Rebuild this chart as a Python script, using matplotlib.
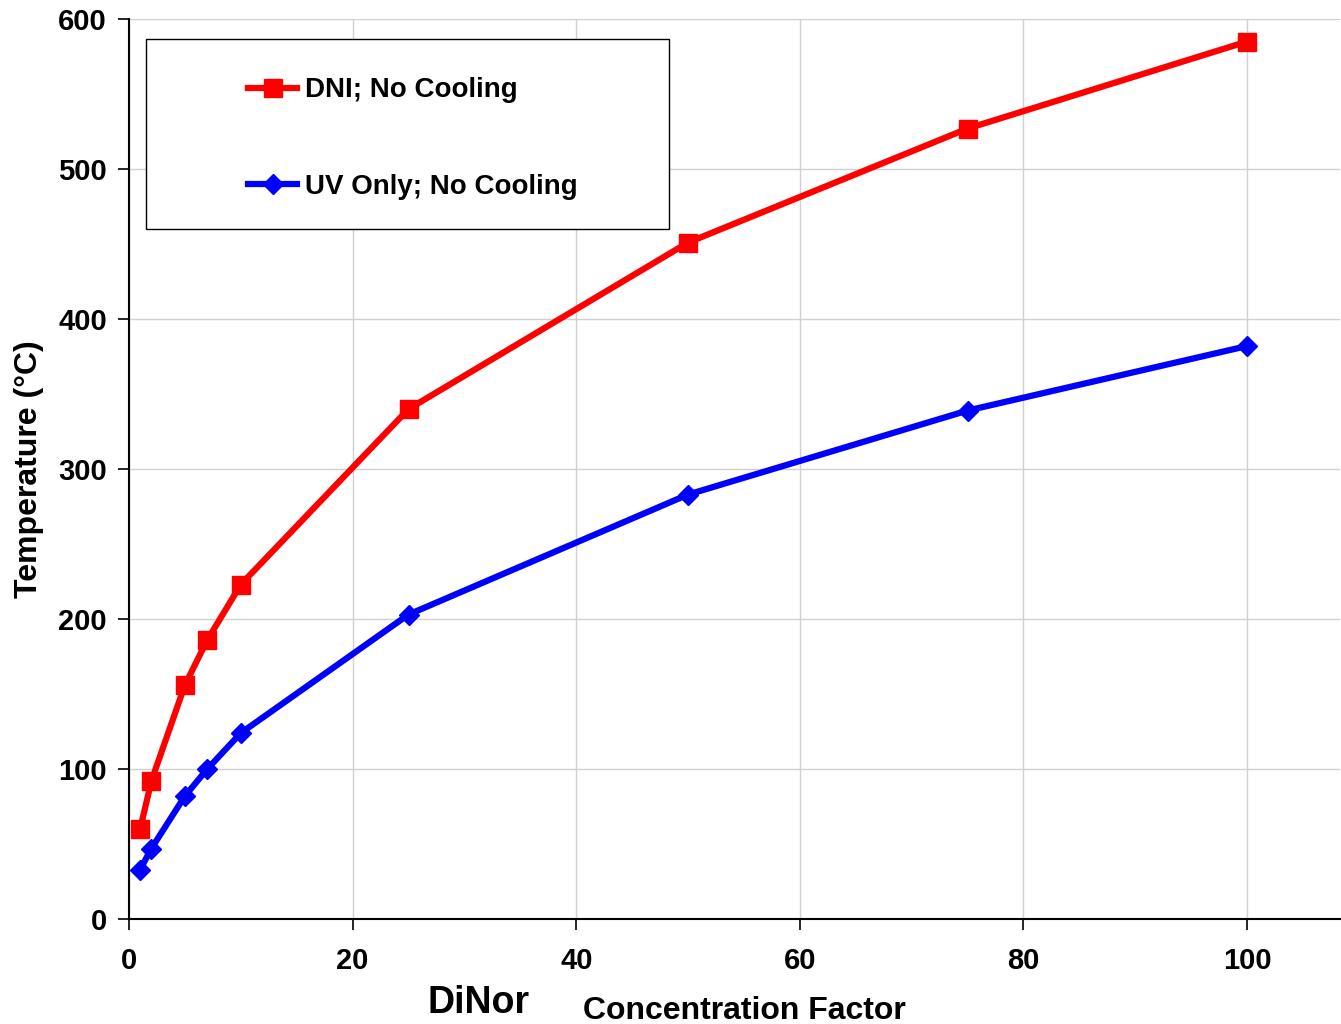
import matplotlib
matplotlib.use("Agg")
import matplotlib.pyplot as plt
from matplotlib.patches import Rectangle

# Data
conc = [1, 2, 5, 7, 10, 25, 50, 75, 100]
dni_temp = [60, 92, 156, 186, 223, 340, 451, 527, 585]
uv_temp = [33, 47, 82, 100, 124, 203, 283, 339, 382]

plt.rcParams['font.family'] = ['Liberation Sans', 'DejaVu Sans']
plt.rcParams['font.weight'] = 'bold'

fig = plt.figure(figsize=(13.41, 10.24), dpi=100)
ax = fig.add_axes([0.0962, 0.1025, 0.9030, 0.8789])

ax.plot(conc, dni_temp, color='#ff0000', lw=4.5, marker='s', ms=13.5,
        label='DNI; No Cooling', zorder=3)
ax.plot(conc, uv_temp, color='#0000ff', lw=4.5, marker='D', ms=10,
        label='UV Only; No Cooling', zorder=3)

ax.set_xlim(0, 108.3)
ax.set_ylim(0, 600)
ax.set_xticks([0, 20, 40, 60, 80, 100])
ax.set_yticks([0, 100, 200, 300, 400, 500, 600])
ax.grid(True, color='#d0d0d0', lw=1)
ax.set_axisbelow(True)
for s in ['top', 'right']:
    ax.spines[s].set_visible(False)
ax.spines['left'].set_linewidth(1.5)
ax.spines['bottom'].set_linewidth(1.5)
ax.tick_params(direction='out', length=8, width=1.2, labelsize=21, pad=12)
ax.tick_params(axis='y', pad=8)
for lab in ax.get_xticklabels() + ax.get_yticklabels():
    lab.set_fontweight('bold')

ax.set_ylabel('Temperature (°C)', fontsize=23, fontweight='bold', labelpad=10)

# legend box
ax.add_patch(Rectangle((0.014, 0.767), 0.432, 0.211, transform=ax.transAxes,
                       facecolor='white', edgecolor='black', lw=1, zorder=4))
ax.legend(loc='upper left', bbox_to_anchor=(0.078, 0.963), frameon=False,
          prop={'weight': 'bold', 'size': 20}, labelspacing=2.55,
          handlelength=1.75, handletextpad=0.3).set_zorder(5)

fig.text(0.357, 0.011, 'DiNor', fontsize=27, fontweight='bold', ha='center')
fig.text(0.555, -0.002, 'Concentration Factor', fontsize=23, fontweight='bold',
         ha='center', va='bottom')

fig.savefig('out.png', dpi=100)
